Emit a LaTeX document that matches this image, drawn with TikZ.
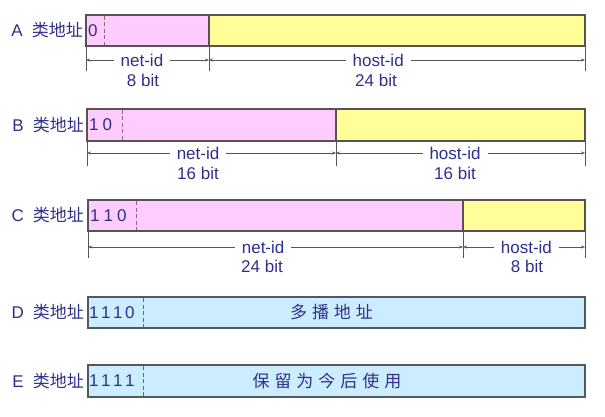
\documentclass[tikz,border=0pt]{standalone}
\usepackage{fontspec}
\setmainfont{Liberation Sans}
\newfontfamily\cjk{Noto Sans CJK SC}
\usetikzlibrary{arrows.meta}
\definecolor{pinkf}{HTML}{FFCCFF}
\definecolor{yelf}{HTML}{FFFF99}
\definecolor{bluef}{HTML}{CCECFF}
\definecolor{txtc}{HTML}{2F2F8A}
\definecolor{bordc}{HTML}{5A5252}
\definecolor{bordb}{HTML}{525A5E}
\definecolor{dashp}{HTML}{A0607A}
\definecolor{dashb}{HTML}{5E6E6E}
\definecolor{dimc}{HTML}{555555}
\begin{document}
\begin{tikzpicture}[x=1pt,y=-1pt,
  font=\fontsize{17}{20}\selectfont, text=txtc,
  fieldbox/.style={draw=bordc, line width=1.6pt},
  fieldblue/.style={draw=bordb, line width=1.6pt, fill=bluef},
  dashp/.style={draw=dashp, line width=0.9pt, dash pattern=on 4pt off 2.5pt},
  dashb/.style={draw=dashb, line width=0.9pt, dash pattern=on 4pt off 2.5pt},
  tickline/.style={draw=dimc, line width=0.7pt},
  dimline/.style={draw=dimc, line width=0.7pt, {Stealth[length=4pt,width=3pt]}-{Stealth[length=4pt,width=3pt]}},
  dimlab/.style={fill=white, inner xsep=7pt, inner ysep=1pt},
  bitlab/.style={inner sep=0pt},
  rowlab/.style={anchor=east, inner sep=0pt},
  bits/.style={anchor=west, inner sep=0pt}]
\useasboundingbox (0,0) rectangle (605,417);
\def\g{\hspace{4pt}}
\def\c{\hspace{5pt}}
\def\s{\hspace{9pt}}

% ---------- A ----------
\node[rowlab] (la) at (83,30.5) {A\s{\cjk 类地址}};
\draw[fieldbox, fill=pinkf] (86,15) rectangle (209,46);
\draw[fieldbox, fill=yelf] (209,15) rectangle (585,46);
\draw[dashp] (104,16) -- (104,45);
\node[bits] (ba) at (88,30.5) {0};
\coordinate (a0) at (86,46); \coordinate (a0b) at (86,71);
\coordinate (a1) at (209,46); \coordinate (a1b) at (209,71);
\coordinate (a2) at (585,46); \coordinate (a2b) at (585,71);
\draw[tickline] (a0) -- (a0b);
\draw[tickline] (a1) -- (a1b);
\draw[tickline] (a2) -- (a2b);
\coordinate (da0) at (86,60); \coordinate (da1) at (209,60); \coordinate (da2) at (585,60);
\draw[dimline] (da0) -- node[dimlab, pos=0.455] (na) {net-id} (da1);
\draw[dimline] (da1) -- node[dimlab, pos=0.45] (ha) {host-id} (da2);
\node[bitlab] (nab) at (143,80) {8 bit};
\node[bitlab] (hab) at (376,80) {24 bit};

% ---------- B ----------
\node[rowlab] (lb) at (84,125) {B\s{\cjk 类地址}};
\draw[fieldbox, fill=pinkf] (87,109) rectangle (336,141);
\draw[fieldbox, fill=yelf] (336,109) rectangle (585,141);
\draw[dashp] (122,110) -- (122,140);
\node[bits] (bb) at (89,125) {1\g0};
\coordinate (b0) at (87,141); \coordinate (b0b) at (87,166);
\coordinate (b1) at (336,141); \coordinate (b1b) at (336,166);
\coordinate (b2) at (585,141); \coordinate (b2b) at (585,166);
\draw[tickline] (b0) -- (b0b);
\draw[tickline] (b1) -- (b1b);
\draw[tickline] (b2) -- (b2b);
\coordinate (db0) at (87,153); \coordinate (db1) at (336,153); \coordinate (db2) at (585,153);
\draw[dimline] (db0) -- node[dimlab, pos=0.446] (nb) {net-id} (db1);
\draw[dimline] (db1) -- node[dimlab, pos=0.478] (hb) {host-id} (db2);
\node[bitlab] (nbb) at (198,173) {16 bit};
\node[bitlab] (hbb) at (455,173) {16 bit};

% ---------- C ----------
\node[rowlab] (lc) at (84,215.5) {C\s{\cjk 类地址}};
\draw[fieldbox, fill=pinkf] (88,200) rectangle (463,231);
\draw[fieldbox, fill=yelf] (463,200) rectangle (585,231);
\draw[dashp] (136,201) -- (136,230);
\node[bits] (bc) at (90,215.5) {1\g1\g0};
\coordinate (c0) at (88,231); \coordinate (c0b) at (88,258);
\coordinate (c1) at (463,231); \coordinate (c1b) at (463,258);
\coordinate (c2) at (585,231); \coordinate (c2b) at (585,258);
\draw[tickline] (c0) -- (c0b);
\draw[tickline] (c1) -- (c1b);
\draw[tickline] (c2) -- (c2b);
\coordinate (dc0) at (88,247); \coordinate (dc1) at (463,247); \coordinate (dc2) at (585,247);
\draw[dimline] (dc0) -- node[dimlab, pos=0.467] (nc) {net-id} (dc1);
\draw[dimline] (dc1) -- node[dimlab, pos=0.52] (hc) {host-id} (dc2);
\node[bitlab] (ncb) at (262,266) {24 bit};
\node[bitlab] (hcb) at (527,266) {8 bit};

% ---------- D ----------
\node[rowlab] (ld) at (84,312.5) {D\s{\cjk 类地址}};
\draw[fieldblue] (88,297) rectangle (585,328);
\draw[dashb] (143,298) -- (143,327);
\node[bits] (bd) at (89,312.5) {1\hspace{2.5pt}1\hspace{2.5pt}1\hspace{2.5pt}0};
\node (td) at (331.5,312.5) {\cjk 多\c 播\c 地\c 址};

% ---------- E ----------
\node[rowlab] (le) at (84,381) {E\s{\cjk 类地址}};
\draw[fieldblue] (88,365) rectangle (585,397);
\draw[dashb] (143,366) -- (143,396);
\node[bits] (be) at (89,381) {1\hspace{2.5pt}1\hspace{2.5pt}1\hspace{2.5pt}1};
\node (te) at (327,381) {\cjk 保\c 留\c 为\c 今\c 后\c 使\c 用};
\end{tikzpicture}
\end{document}
